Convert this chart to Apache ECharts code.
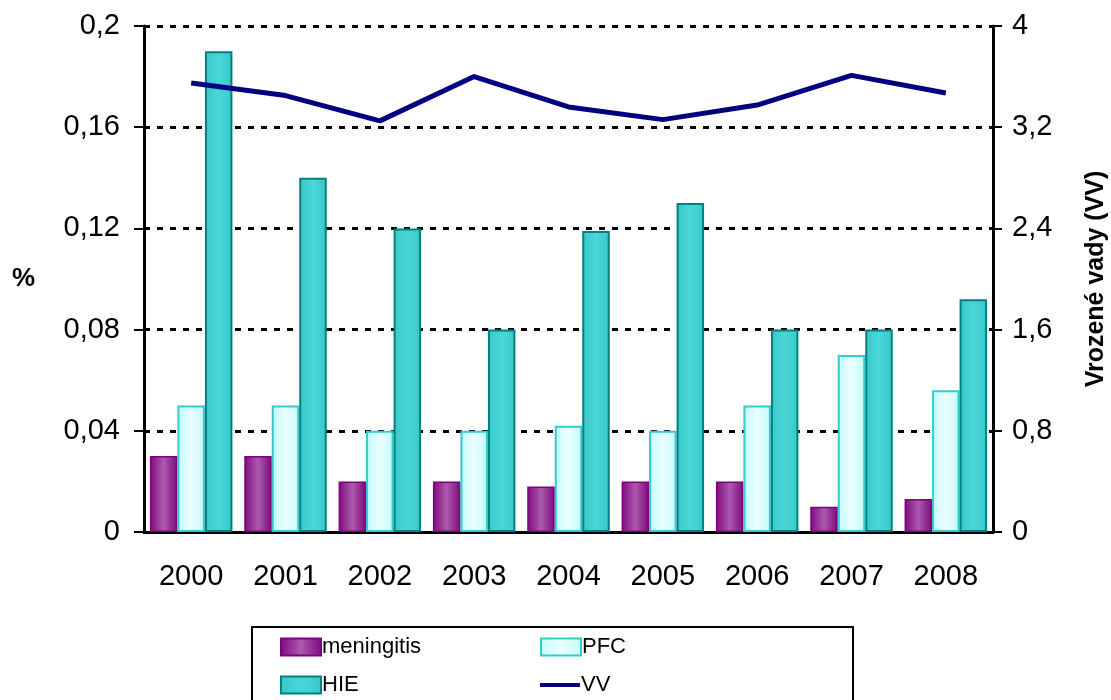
<!DOCTYPE html>
<html>
<head>
<meta charset="utf-8">
<script src="https://cdn.jsdelivr.net/npm/echarts@6/dist/echarts.min.js"></script>
<style>
  html, body { margin: 0; padding: 0; background: #fff; }
  #chart { width: 1111px; height: 700px; }
</style>
</head>
<body>
<div id="chart"></div>
<script>
  // data
  var years = ['2000', '2001', '2002', '2003', '2004', '2005', '2006', '2007', '2008'];
  var meningitis = [0.03, 0.03, 0.02, 0.02, 0.018, 0.02, 0.02, 0.01, 0.013];
  var pfc = [0.05, 0.05, 0.04, 0.04, 0.042, 0.04, 0.05, 0.07, 0.056];
  var hie = [0.19, 0.14, 0.12, 0.08, 0.119, 0.13, 0.08, 0.08, 0.092];
  var vv = [3.55, 3.45, 3.25, 3.60, 3.36, 3.26, 3.375, 3.61, 3.47];

  var font = 'Liberation Sans, Arial, sans-serif';
  var comma = function (v) { return String(+v.toFixed(2)).replace('.', ','); };

  function hGrad(edge, mid) {
    return new echarts.graphic.LinearGradient(0, 0, 1, 0, [
      { offset: 0, color: edge },
      { offset: 0.5, color: mid },
      { offset: 1, color: edge }
    ]);
  }

  // jedna polozka legendy = jedna legenda (2x2 mrizka)
  function legendItem(item, left, top) {
    return {
      data: [item],
      left: left, top: top,
      icon: 'rect',
      itemWidth: 40, itemHeight: 17,
      textStyle: { fontSize: 22, color: '#000', padding: [0, 0, 0, -4] }
    };
  }

  var myChart = echarts.init(document.getElementById('chart'));

  myChart.setOption({
    animation: false,
    textStyle: { fontFamily: font },
    grid: { left: 144, right: 118, top: 26, bottom: 168, outerBoundsMode: 'none' },
    legend: [
      legendItem('meningitis', 275, 631),
      legendItem('HIE', 275, 669),
      legendItem('PFC', 535, 631),
      legendItem({ name: 'VV', icon: 'path://M0,0 L40,0 L40,4 L0,4 Z' }, 535, 669)
    ],
    // ramecek legendy
    graphic: [{
      type: 'rect',
      shape: { x: 252, y: 627, width: 601, height: 80 },
      style: { fill: 'none', stroke: '#000', lineWidth: 2 }
    }],
    xAxis: {
      type: 'category',
      data: years,
      axisLine: { lineStyle: { color: '#000', width: 3 } },
      axisTick: { length: 9, lineStyle: { color: '#000', width: 2 } },
      axisLabel: { color: '#000', fontSize: 29, margin: 30 }
    },
    yAxis: [
      {
        type: 'value',
        min: 0, max: 0.2, interval: 0.04,
        name: '%',
        nameLocation: 'middle',
        nameRotate: 0,
        nameGap: 109,
        nameTextStyle: { fontSize: 26, fontWeight: 'bold', color: '#000' },
        axisLine: { show: true, lineStyle: { color: '#000', width: 3 } },
        axisTick: { show: true, length: 10, lineStyle: { color: '#000', width: 2 } },
        axisLabel: { color: '#000', fontSize: 29, margin: 24, formatter: comma },
        splitLine: { lineStyle: { color: '#000', width: 3, type: [6, 7] } }
      },
      {
        type: 'value',
        min: 0, max: 4, interval: 0.8,
        position: 'right',
        name: 'Vrozené vady (VV)',
        nameLocation: 'middle',
        nameRotate: 90,
        nameGap: 91,
        nameTextStyle: { fontSize: 25, fontWeight: 'bold', color: '#000' },
        axisLine: { show: true, lineStyle: { color: '#000', width: 3 } },
        axisTick: { show: true, length: 9, lineStyle: { color: '#000', width: 2 } },
        axisLabel: { color: '#000', fontSize: 29, margin: 19, formatter: comma },
        splitLine: { show: false }
      }
    ],
    series: [
      {
        name: 'meningitis',
        type: 'bar',
        data: meningitis,
        barWidth: 27.5,
        barGap: '0%',
        itemStyle: { color: hGrad('#7d0a7d', '#ad5aad'), borderColor: '#800080', borderWidth: 1.5 }
      },
      {
        name: 'PFC',
        type: 'bar',
        data: pfc,
        barWidth: 27.5,
        barGap: '0%',
        itemStyle: { color: hGrad('#c4fafa', '#eaffff'), borderColor: '#33cccc', borderWidth: 2 }
      },
      {
        name: 'HIE',
        type: 'bar',
        data: hie,
        barWidth: 27.5,
        barGap: '0%',
        itemStyle: { color: hGrad('#38c8c8', '#4ad6d6'), borderColor: '#008080', borderWidth: 2 }
      },
      {
        name: 'VV',
        type: 'line',
        yAxisIndex: 1,
        data: vv,
        symbol: 'none',
        z: 5,
        lineStyle: { color: '#000080', width: 5 },
        itemStyle: { color: '#000080' }
      }
    ]
  });

  window.addEventListener('resize', function () { myChart.resize(); });
</script>
</body>
</html>
